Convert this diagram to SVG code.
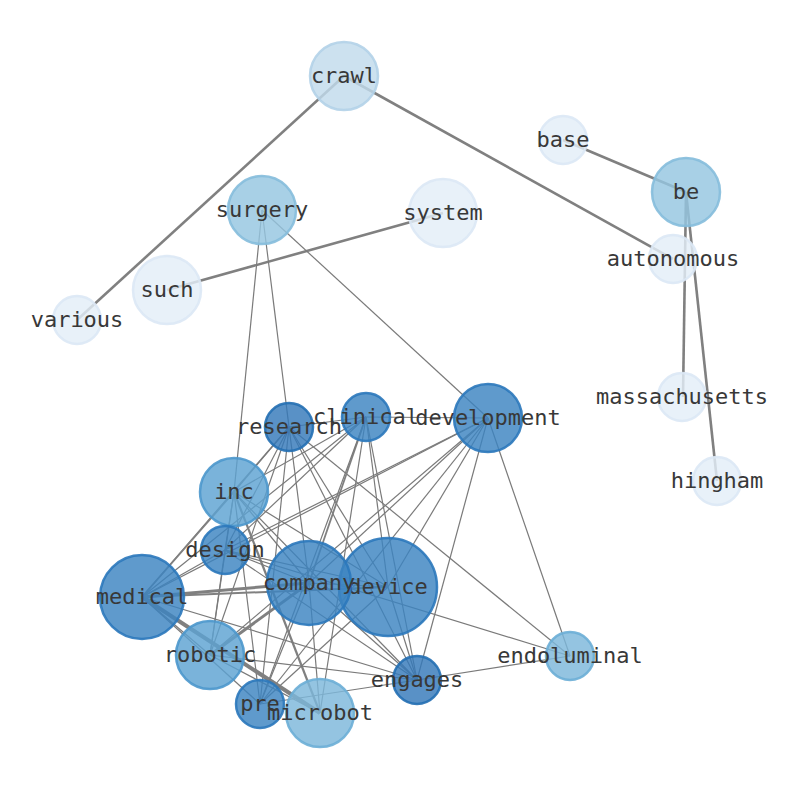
<svg xmlns="http://www.w3.org/2000/svg" width="794" height="790" viewBox="0 0 794 790">
<style>
.e{stroke:#7a7a7a;stroke-width:1.2;fill:none}
.t{stroke:#808080;stroke-width:2.6;fill:none}
.n circle{stroke-width:2.5;fill-opacity:0.82;stroke-opacity:0.9}
.n text{font-family:"DejaVu Sans Mono",monospace;font-size:22px;fill:#383838;text-anchor:middle}
.c0 circle{fill:#e3eef8;stroke:#dbe8f5}
.c1 circle{fill:#c1dbec;stroke:#b2d2e8}
.c2 circle{fill:#95c6e0;stroke:#85bcdc}
.c3 circle{fill:#7cb7da;stroke:#6baed6}
.c4 circle{fill:#5da2d2;stroke:#4b97cc}
.c5 circle{fill:#3c84c1;stroke:#2b78bb}
.c6 circle{fill:#3479ba;stroke:#246fb2}
</style>
<rect width="794" height="790" fill="#fff"/>
<g id="connectors">
<line class="t" x1="344" y1="76" x2="77" y2="320"/>
<line class="t" x1="344" y1="76" x2="673" y2="259"/>
<line class="t" x1="167" y1="290" x2="443" y2="213"/>
<line class="t" x1="563" y1="140" x2="686" y2="192"/>
<line class="t" x1="686" y1="192" x2="683" y2="397"/>
<line class="t" x1="686" y1="192" x2="717" y2="481"/>
<line class="e" x1="262" y1="210" x2="234" y2="492"/>
<line class="e" x1="262" y1="210" x2="289" y2="427"/>
<line class="e" x1="262" y1="210" x2="488" y2="418"/>
<line class="e" x1="289" y1="427" x2="366" y2="417"/>
<line class="e" x1="289" y1="427" x2="234" y2="492"/>
<line class="e" x1="289" y1="427" x2="225" y2="550"/>
<line class="e" x1="289" y1="427" x2="142" y2="597"/>
<line class="e" x1="289" y1="427" x2="309" y2="583"/>
<line class="e" x1="289" y1="427" x2="388" y2="587"/>
<line class="e" x1="289" y1="427" x2="417" y2="680"/>
<line class="e" x1="289" y1="427" x2="570" y2="656"/>
<line class="e" x1="289" y1="427" x2="210" y2="655"/>
<line class="e" x1="289" y1="427" x2="260" y2="704"/>
<line class="e" x1="366" y1="417" x2="488" y2="418"/>
<line class="e" x1="366" y1="417" x2="234" y2="492"/>
<line class="e" x1="366" y1="417" x2="225" y2="550"/>
<line class="e" x1="366" y1="417" x2="142" y2="597"/>
<line class="t" x1="366" y1="417" x2="309" y2="583" style="stroke-width:1.8"/>
<line class="e" x1="366" y1="417" x2="388" y2="587"/>
<line class="e" x1="366" y1="417" x2="417" y2="680"/>
<line class="e" x1="366" y1="417" x2="260" y2="704"/>
<line class="e" x1="366" y1="417" x2="320" y2="713"/>
<line class="e" x1="488" y1="418" x2="225" y2="550"/>
<line class="e" x1="488" y1="418" x2="142" y2="597"/>
<line class="e" x1="488" y1="418" x2="309" y2="583"/>
<line class="e" x1="488" y1="418" x2="388" y2="587"/>
<line class="e" x1="488" y1="418" x2="417" y2="680"/>
<line class="e" x1="488" y1="418" x2="570" y2="656"/>
<line class="e" x1="488" y1="418" x2="210" y2="655"/>
<line class="e" x1="488" y1="418" x2="260" y2="704"/>
<line class="e" x1="234" y1="492" x2="225" y2="550"/>
<line class="t" x1="234" y1="492" x2="142" y2="597" style="stroke-width:1.8"/>
<line class="e" x1="234" y1="492" x2="309" y2="583"/>
<line class="e" x1="234" y1="492" x2="388" y2="587"/>
<line class="e" x1="234" y1="492" x2="417" y2="680"/>
<line class="e" x1="234" y1="492" x2="210" y2="655"/>
<line class="e" x1="234" y1="492" x2="260" y2="704"/>
<line class="t" x1="234" y1="492" x2="320" y2="713" style="stroke-width:2.2"/>
<line class="e" x1="225" y1="550" x2="142" y2="597"/>
<line class="e" x1="225" y1="550" x2="309" y2="583"/>
<line class="e" x1="225" y1="550" x2="388" y2="587"/>
<line class="e" x1="225" y1="550" x2="417" y2="680"/>
<line class="e" x1="225" y1="550" x2="570" y2="656"/>
<line class="e" x1="225" y1="550" x2="210" y2="655"/>
<line class="t" x1="142" y1="597" x2="309" y2="583" style="stroke-width:3"/>
<line class="t" x1="142" y1="597" x2="388" y2="587" style="stroke-width:2"/>
<line class="e" x1="142" y1="597" x2="210" y2="655"/>
<line class="t" x1="142" y1="597" x2="320" y2="713" style="stroke-width:4"/>
<line class="e" x1="142" y1="597" x2="417" y2="680"/>
<line class="e" x1="142" y1="597" x2="260" y2="704"/>
<line class="e" x1="309" y1="583" x2="388" y2="587"/>
<line class="t" x1="309" y1="583" x2="210" y2="655" style="stroke-width:3"/>
<line class="e" x1="309" y1="583" x2="260" y2="704"/>
<line class="e" x1="309" y1="583" x2="320" y2="713"/>
<line class="e" x1="309" y1="583" x2="417" y2="680"/>
<line class="e" x1="388" y1="587" x2="417" y2="680"/>
<line class="e" x1="388" y1="587" x2="260" y2="704"/>
<line class="e" x1="210" y1="655" x2="417" y2="680"/>
<line class="e" x1="210" y1="655" x2="320" y2="713"/>
<line class="e" x1="417" y1="680" x2="570" y2="656"/>
<line class="e" x1="417" y1="680" x2="260" y2="704"/>
</g>
<g id="crawl" class="n c1"><circle cx="344" cy="76" r="34"/><text x="344" y="83">crawl</text></g>
<g id="base" class="n c0"><circle cx="563" cy="140" r="24"/><text x="563" y="147">base</text></g>
<g id="be" class="n c2"><circle cx="686" cy="192" r="34"/><text x="686" y="199">be</text></g>
<g id="surgery" class="n c2"><circle cx="262" cy="210" r="34"/><text x="262" y="217">surgery</text></g>
<g id="system" class="n c0"><circle cx="443" cy="213" r="34"/><text x="443" y="220">system</text></g>
<g id="such" class="n c0"><circle cx="167" cy="290" r="34"/><text x="167" y="297">such</text></g>
<g id="various" class="n c0"><circle cx="77" cy="320" r="24"/><text x="77" y="327">various</text></g>
<g id="autonomous" class="n c0"><circle cx="673" cy="259" r="24"/><text x="673" y="266">autonomous</text></g>
<g id="massachusetts" class="n c0"><circle cx="682" cy="397" r="24"/><text x="682" y="404">massachusetts</text></g>
<g id="hingham" class="n c0"><circle cx="717" cy="481" r="24"/><text x="717" y="488">hingham</text></g>
<g id="research" class="n c6"><circle cx="289" cy="427" r="24"/><text x="289" y="434">research</text></g>
<g id="clinical" class="n c5"><circle cx="366" cy="417" r="24"/><text x="366" y="424">clinical</text></g>
<g id="development" class="n c5"><circle cx="488" cy="418" r="34"/><text x="488" y="425">development</text></g>
<g id="inc" class="n c4"><circle cx="234" cy="492" r="34"/><text x="234" y="499">inc</text></g>
<g id="design" class="n c5"><circle cx="225" cy="550" r="24"/><text x="225" y="557">design</text></g>
<g id="medical" class="n c5"><circle cx="142" cy="597" r="42"/><text x="142" y="604">medical</text></g>
<g id="device" class="n c5"><circle cx="388" cy="587" r="49"/><text x="388" y="594">device</text></g>
<g id="company" class="n c5"><circle cx="309" cy="583" r="42"/><text x="309" y="590">company</text></g>
<g id="robotic" class="n c4"><circle cx="210" cy="655" r="34"/><text x="210" y="662">robotic</text></g>
<g id="engages" class="n c6"><circle cx="417" cy="680" r="24"/><text x="417" y="687">engages</text></g>
<g id="endoluminal" class="n c3"><circle cx="570" cy="656" r="24"/><text x="570" y="663">endoluminal</text></g>
<g id="pre" class="n c5"><circle cx="260" cy="704" r="24"/><text x="260" y="711">pre</text></g>
<g id="microbot" class="n c3"><circle cx="320" cy="713" r="34"/><text x="320" y="720">microbot</text></g>
</svg>
